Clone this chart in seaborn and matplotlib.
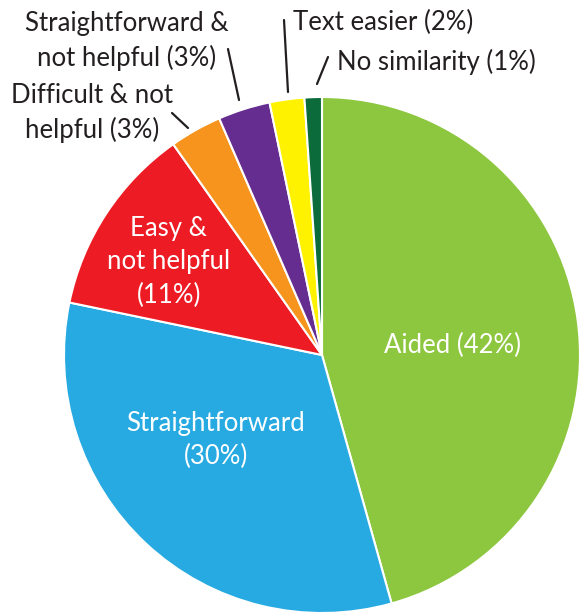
import matplotlib
matplotlib.use("Agg")
import matplotlib.pyplot as plt
import seaborn as sns

# data, clockwise from 12 o'clock
categories = ["Aided", "Straightforward", "Easy & not helpful", "Difficult & not helpful",
              "Straightforward & not helpful", "Text easier", "No similarity"]
percents = [42, 30, 11, 3, 3, 2, 1]
label_texts = ["Aided (42%)", "Straightforward\n(30%)", "Easy &\nnot helpful\n(11%)",
               "Difficult & not\nhelpful (3%)", "Straightforward &\nnot helpful (3%)",
               "Text easier (2%)", "No similarity (1%)"]
slice_colors = ["#8DC63F", "#27AAE1", "#ED1C24", "#F7941D", "#662D91", "#FFF200", "#0B6B3A"]

sns.set_style("white")
plt.rcParams['font.family'] = ['Lato', 'DejaVu Sans']

# pixel layout of reference: centre (322, 355), radius 258
W, H = 581, 616
CX, CY, R = 322, 355, 258

def d(px, py):
    return (px - CX) / R, (CY - py) / R

fig = plt.figure(figsize=(W / 100, H / 100), dpi=100)
ax = fig.add_axes([0, 0, 1, 1])
ax.pie(percents, colors=sns.color_palette(slice_colors), startangle=90, counterclock=False,
       radius=1, center=(0, 0),
       wedgeprops=dict(edgecolor="white", linewidth=1.5))
ax.set_xlim(-CX / R, (W - CX) / R)
ax.set_ylim(-(H - CY) / R, CY / R)
ax.set_aspect("auto")
ax.axis("off")

fs = 18.5
# inside labels (white)
inside = [(0, (453, 345)), (1, (216, 440)), (2, (169, 262))]
for i, (px, py) in inside:
    x, y = d(px, py)
    ax.text(x, y, label_texts[i], color="white", fontsize=fs, ha="center", va="center",
            linespacing=1.4)

# outside labels (dark) with leader lines
outside = [(3, (92, 113), "center"), (4, (127, 41), "center"),
           (5, (293, 22), "left"), (6, (337, 62), "left")]
for i, (px, py), ha in outside:
    x, y = d(px, py)
    ax.text(x, y, label_texts[i], color="#231F20", fontsize=fs, ha=ha, va="center",
            linespacing=1.4)

leaders = [((172, 113), (188, 128)), ((228, 49), (239, 100)),
           ((284, 20), (288, 92)), ((328, 57), (317, 84))]
for p0, p1 in leaders:
    x0, y0 = d(*p0)
    x1, y1 = d(*p1)
    ax.plot([x0, x1], [y0, y1], color="#231F20", lw=1.6)

fig.savefig("out.png", dpi=100)
